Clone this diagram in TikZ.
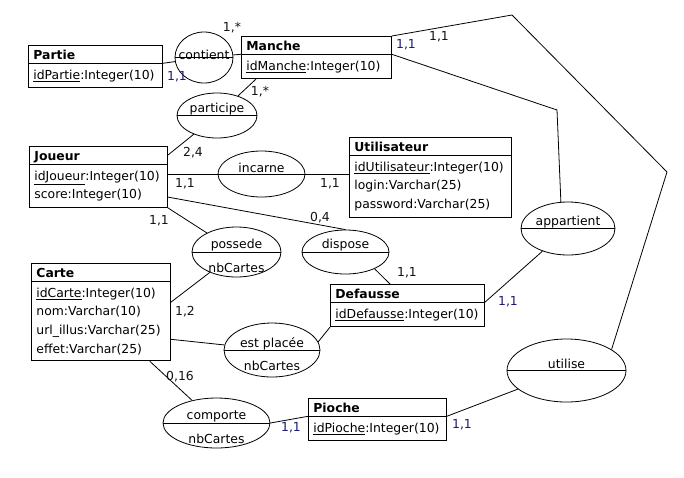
\documentclass[tikz,border=0pt]{standalone}
\usepackage{fontspec}
\setmainfont{DejaVu Sans}
\usetikzlibrary{shapes.geometric}
\definecolor{ink}{HTML}{141414}
\definecolor{navy}{HTML}{1c1c78}
\tikzset{
  enttitle/.style={draw, line width=0.8pt, anchor=north west, inner xsep=5pt, inner ysep=2pt,
    text height=12.5pt, text depth=1pt, text width=#1, font=\fontsize{12.4}{18.7}\selectfont\bfseries},
  entattr/.style={draw, line width=0.8pt, anchor=north west, align=left, inner xsep=5pt, inner ysep=6pt, text width=#1},
  assoc/.style={ellipse, draw, line width=0.8pt, inner sep=0pt,
    path picture={\draw[line width=0.8pt] (path picture bounding box.west) -- (path picture bounding box.east);}},
  upper/.style={label={[anchor=base, yshift=6.5pt]center:#1}},
  lower/.style={label={[anchor=base, yshift=-15.5pt]center:#1}},
  card/.style={inner sep=0pt, text=ink},
  cardnavy/.style={inner sep=0pt, text=navy}
}
\begin{document}
\begin{tikzpicture}[x=1pt, y=-1pt, font=\fontsize{12.4}{18.7}\selectfont]
      \fill[white] (0,0) rectangle (684,477);
      \useasboundingbox (0,0) rectangle (684,477);

      % entities
      \node[enttitle=124pt] (partie) at (28,45) {Partie};
      \node[entattr=124pt] (partieattr) at (partie.south west) {\underline{idPartie}:Integer(10)};
      \node[enttitle=140pt] (manche) at (241,36) {Manche};
      \node[entattr=140pt] (mancheattr) at (manche.south west) {\underline{idManche}:Integer(10)};
      \node[enttitle=128pt] (joueur) at (29,146) {Joueur};
      \node[entattr=128pt] (joueurattr) at (joueur.south west) {\underline{idJoueur}:Integer(10)\\score:Integer(10)};
      \node[enttitle=152pt] (utilisateur) at (349,137) {Utilisateur};
      \node[entattr=152pt] (utilisateurattr) at (utilisateur.south west) {\underline{idUtilisateur}:Integer(10)\\login:Varchar(25)\\password:Varchar(25)};
      \node[enttitle=129pt] (carte) at (31,263) {Carte};
      \node[entattr=129pt] (carteattr) at (carte.south west) {\underline{idCarte}:Integer(10)\\nom:Varchar(10)\\url\_illus:Varchar(25)\\effet:Varchar(25)};
      \node[enttitle=144pt] (defausse) at (330,284) {Defausse};
      \node[entattr=144pt] (defausseattr) at (defausse.south west) {\underline{idDefausse}:Integer(10)};
      \node[enttitle=128pt] (pioche) at (308,398) {Pioche};
      \node[entattr=128pt] (piocheattr) at (pioche.south west) {\underline{idPioche}:Integer(10)};

      % associations
      \node[assoc, minimum width=58pt, minimum height=51pt, label={[anchor=base, yshift=2.5pt]center:contient}] (contient) at (204,57.5) {};
      \node[assoc, minimum width=80pt, minimum height=45pt, upper=participe] (participe) at (217,115.5) {};
      \node[assoc, minimum width=87pt, minimum height=46pt, upper=incarne] (incarne) at (261.5,174) {};
      \node[assoc, minimum width=89pt, minimum height=50pt, upper=possede, lower=nbCartes] (possede) at (236.5,252) {};
      \node[assoc, minimum width=87pt, minimum height=44pt, upper=dispose] (dispose) at (345.5,252) {};
      \node[assoc, minimum width=94pt, minimum height=53pt, upper=appartient] (appartient) at (568,228.5) {};
      \node[assoc, minimum width=96pt, minimum height=54pt, upper=est placée, lower=nbCartes] (estplacee) at (272,350) {};
      \node[assoc, minimum width=119pt, minimum height=63pt, upper=utilise] (utilise) at (566.5,370.5) {};
      \node[assoc, minimum width=107pt, minimum height=50pt, upper=comporte, lower=nbCartes] (comporte) at (216.5,423) {};

      % bends of the long links
      \coordinate (coudeA) at (557,110);
      \coordinate (coudeB) at (512,15);
      \coordinate (coudeC) at (667,172);

      % links
      \begin{scope}[line width=0.8pt]
      \draw (partie.south east) -- (contient);
      \draw (contient) -- (manche.south west);
      \draw ([xshift=15pt]mancheattr.south west) -- (participe);
      \draw (joueur.east) -- (participe);
      \draw (incarne.west) -- (incarne.west -| joueurattr.east);
      \draw (incarne.east) -- (incarne.east -| utilisateurattr.west);
      \draw ([yshift=-11pt]joueurattr.east) -- (dispose.north);
      \draw (joueurattr.south east) -- (possede);
      \draw ([yshift=19pt]carteattr.east) -- (possede);
      \draw ([yshift=-18pt]carteattr.east) -- (estplacee);
      \draw (estplacee.10) -- (defausseattr.south west);
      \draw (dispose.-30) -- ([xshift=60pt]defausse.north west);
      \draw (defausse.south east) -- (appartient);
      \draw (manche.south east) -- (coudeA) -- (appartient.105);
      \draw (manche.north east) -- (coudeB) -- (coudeC) -- (utilise.25);
      \draw (pioche.south east) -- (utilise);
      \draw ([xshift=-21pt]carteattr.south east) -- (comporte);
      \draw (comporte.east) -- (pioche.south west);
      \end{scope}

      % cardinalities
      \node[card] (cardcontient) at (232,28) {1,*};
      \node[cardnavy] (cardpartie) at (177,77) {1,1};
      \node[card] (cardparticipe) at (260,92) {1,*};
      \node[card] (cardjoueurp) at (193,153) {2,4};
      \node[card] (cardjoueuri) at (185,184) {1,1};
      \node[card] (cardutilisateur) at (330,184) {1,1};
      \node[card] (cardjoueurd) at (320,218) {0,4};
      \node[card] (cardjoueurpo) at (159,221) {1,1};
      \node[card] (cardcartepo) at (185,312) {1,2};
      \node[card] (cardcartec) at (180,377) {0,16};
      \node[cardnavy] (cardpiochec) at (291,428) {1,1};
      \node[card] (carddefaussed) at (407,273) {1,1};
      \node[cardnavy] (carddefaussea) at (508,302) {1,1};
      \node[cardnavy] (cardpiocheu) at (462,425) {1,1};
      \node[cardnavy] (cardmanchea) at (406,45) {1,1};
      \node[card] (cardmancheu) at (439,37) {1,1};
    \end{tikzpicture}
\end{document}
